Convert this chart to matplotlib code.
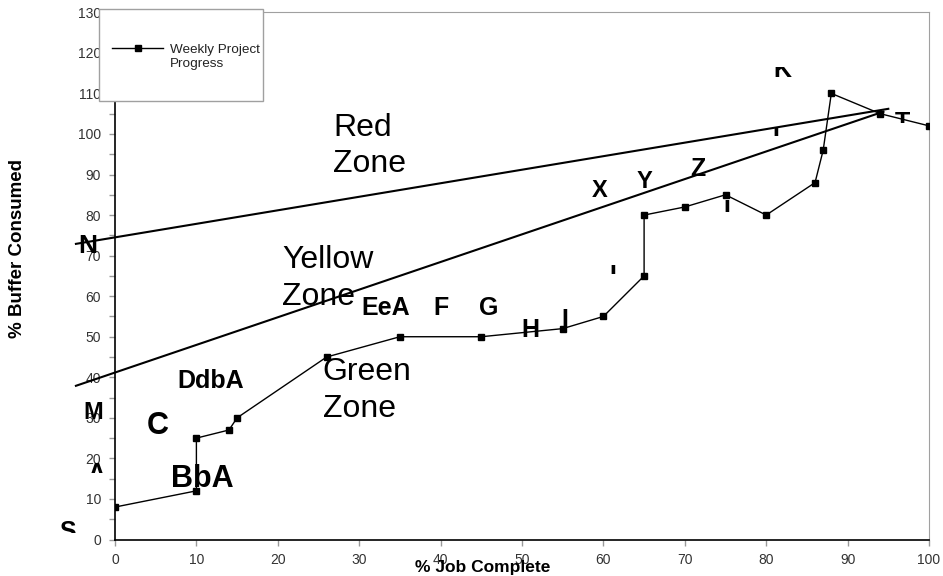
import matplotlib
matplotlib.use("Agg")
import matplotlib.pyplot as plt
from matplotlib.patches import Rectangle
from matplotlib.lines import Line2D

plt.rcParams['font.family'] = ['Liberation Sans', 'DejaVu Sans']

# Weekly project progress (% job complete vs % buffer consumed)
job_complete = [0, 10, 10, 14, 15, 26, 35, 45, 55, 60, 65, 65, 70, 75, 80, 86, 87, 88, 94, 100]
buffer_used = [8, 12, 25, 27, 30, 45, 50, 50, 52, 55, 65, 80, 82, 85, 80, 88, 96, 110, 105, 102]

# zone boundary lines (start / end points)
red_x = [-4.8, 95.0]
red_y = [72.9, 106.2]
yellow_x = [-4.8, 94.4]
yellow_y = [37.9, 105.5]

# zone captions: (text, x, baseline y)
zone_text = [("Red", 26.8, 99.5), ("Zone", 26.8, 90.5),
             ("Yellow", 20.5, 67.0), ("Zone", 20.5, 57.8),
             ("Green", 25.5, 39.3), ("Zone", 25.5, 30.2)]

# point labels: (text, x centre, baseline y, size)
point_labels = [("M", -2.7, 29.6, 17), ("C", 5.2, 26.0, 22), ("BbA", 10.7, 12.9, 22),
                ("DdbA", 11.8, 37.3, 18), ("EeA", 33.2, 55.4, 18), ("F", 40.1, 55.4, 18),
                ("G", 45.9, 55.4, 18), ("H", 51.0, 49.9, 18), ("I", 55.2, 52.4, 18),
                ("X", 59.6, 84.5, 17), ("Y", 65.1, 86.7, 17), ("Z", 71.6, 89.6, 18),
                ("N", -3.4, 70.7, 19)]

# partly hidden labels: (text, x centre, baseline y, size, clip y0, clip y1)
clipped_labels = [("S", -5.8, 0.1, 18, 1.6, 6.0), ("A", -2.3, 14.4, 18, 16.4, 20.0),
                  ("I", 61.2, 63.3, 18, 65.5, 70.0), ("I", 75.2, 79.3, 18, 80.8, 84.0),
                  ("I", 81.2, 97.3, 18, 99.5, 103.0), ("K", 82.0, 114.0, 18, 114.0, 116.5),
                  ("T", 96.7, 101.0, 18, 102.7, 106.0)]

W, H = 943, 576
fig = plt.figure(figsize=(W / 100, H / 100), dpi=100)
ax = fig.add_axes([115 / W, 1 - 539.5 / H, (929 - 115) / W, (539.5 - 12.3) / H])

ax.plot(job_complete, buffer_used, color='black', lw=1.0, marker='s', ms=5,
        mfc='black', mec='black', zorder=3)
ax.plot(red_x, red_y, color='black', lw=1.5, clip_on=False, zorder=4)
ax.plot(yellow_x, yellow_y, color='black', lw=1.5, clip_on=False, zorder=4)

for s, x, y in zone_text:
    ax.text(x, y, s, fontsize=23, ha='left', va='baseline', zorder=2)

for s, x, y, size in point_labels:
    ax.text(x, y, s, fontsize=size, fontweight='bold', ha='center', va='baseline', zorder=2)

for s, x, y, size, c0, c1 in clipped_labels:
    t = ax.text(x, y, s, fontsize=size, fontweight='bold', ha='center', va='baseline',
                clip_on=True, zorder=2)
    clip = Rectangle((x - 3, c0), 6, c1 - c0, transform=ax.transData)
    t.set_clip_path(clip)

ax.set_xlim(0, 100)
ax.set_ylim(0, 130)
ax.set_xticks(range(0, 101, 10))
ax.set_yticks(range(0, 131, 10))
ax.set_yticks(range(5, 130, 10), minor=True)
ax.tick_params(axis='both', which='both', direction='out', length=4, width=1,
               color='#999999', labelsize=10, labelcolor='#333333', pad=6)

for side in ['top', 'right']:
    ax.spines[side].set_color('#a0a0a0')
for side in ['left', 'bottom']:
    ax.spines[side].set_color('black')
    ax.spines[side].set_linewidth(1.2)

fig.text(18 / W, 1 - 338 / H, "% Buffer Consumed", rotation=90, fontsize=13.5,
         fontweight='bold', ha='center', va='bottom')
fig.text(415 / W, 1 - 571.7 / H, "% Job Complete", fontsize=12.5, fontweight='bold',
         ha='left', va='baseline')

# legend box drawn by hand
box = Rectangle((99.3 / W, 1 - 101 / H), (263.3 - 99.3) / W, (101 - 9.3) / H,
                transform=fig.transFigure, facecolor='white', edgecolor='#a0a0a0',
                lw=1, zorder=10)
fig.add_artist(box)
fig.add_artist(Line2D([111.7 / W, 163.3 / W], [1 - 48.3 / H, 1 - 48.3 / H],
                      transform=fig.transFigure, color='black', lw=1, zorder=11))
fig.add_artist(Line2D([137.5 / W], [1 - 48.3 / H], transform=fig.transFigure,
                      marker='s', ms=5, color='black', zorder=11))
fig.text(170 / W, 1 - 53 / H, "Weekly Project", fontsize=9.7, ha='left',
         va='baseline', color='#222222', zorder=11)
fig.text(170 / W, 1 - 67 / H, "Progress", fontsize=9.7, ha='left',
         va='baseline', color='#222222', zorder=11)

fig.savefig('out.png', dpi=100)
